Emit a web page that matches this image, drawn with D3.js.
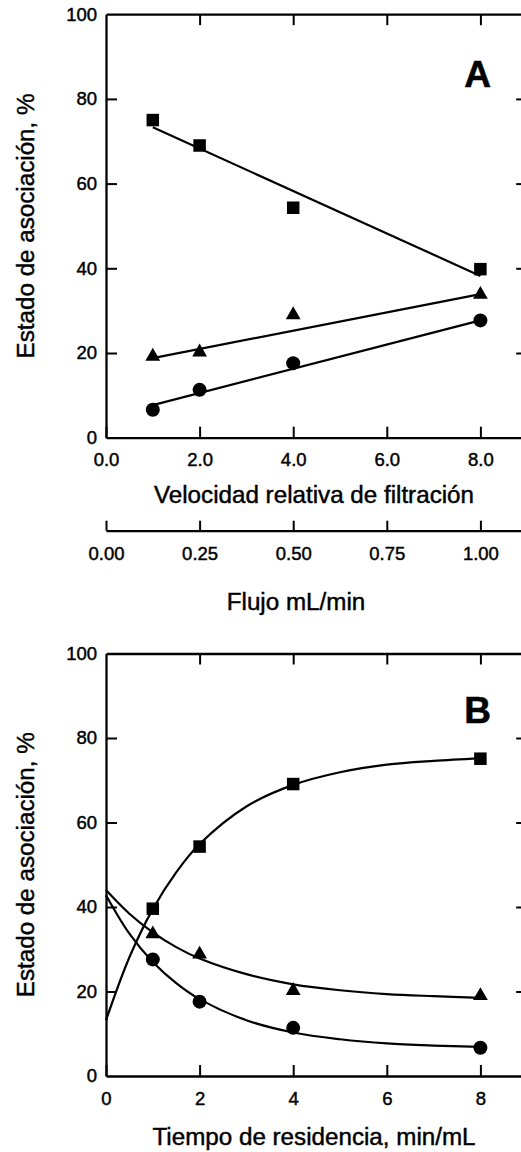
<!DOCTYPE html>
<html>
<head>
<meta charset="utf-8">
<script src="https://cdn.jsdelivr.net/npm/d3@7"></script>
<style>
  html, body { margin: 0; padding: 0; background: #fff; }
  svg { display: block; }
  text { font-family: "Liberation Sans", Arial, Helvetica, sans-serif; fill: #000; }
</style>
</head>
<body>
<svg id="chart" width="521" height="1152"></svg>
<script>
// ---------- Data ----------
// Panel A: x = velocidad relativa de filtración
const velocity = [1, 2, 4, 8];
const squaresA = [75.0, 69.0, 54.3, 39.8];
const trianglesA = [19.2, 20.2, 29.0, 33.8];
const circlesA = [6.6, 11.3, 17.6, 27.7];
// straight fit lines in panel A (end points)
const fitX_A = [1, 8];
const squaresFitA = [73.3, 38.2];
const trianglesFitA = [18.8, 33.9];
const circlesFitA = [7.7, 27.7];

// Panel B: x = tiempo de residencia
const residence = [1, 2, 4, 8];
const squaresB = [39.6, 54.3, 69.1, 75.1];
const trianglesB = [33.6, 28.8, 20.2, 19.0];
const circlesB = [27.6, 17.6, 11.4, 6.7];
// fitted curves in panel B
const curveX_B = [0, 0.5, 1, 1.5, 2, 3, 4, 5, 6, 7, 8];
const squaresCurveB = [13.2, 28.1, 39.5, 48.2, 54.9, 63.8, 68.9, 71.9, 73.7, 74.6, 75.2];
const trianglesCurveB = [44.0, 38.4, 34.0, 30.5, 27.8, 24.1, 21.7, 20.3, 19.4, 18.9, 18.5];
const circlesCurveB = [42.8, 33.7, 27.0, 22.0, 18.2, 13.2, 10.3, 8.7, 7.7, 7.2, 6.9];

// Tick values / labels
const xTicksA = [0, 2, 4, 6, 8];
const xTickLabelsA = ["0.0", "2.0", "4.0", "6.0", "8.0"];
const flowTicks = [0, 0.25, 0.5, 0.75, 1.0];
const flowTickLabels = ["0.00", "0.25", "0.50", "0.75", "1.00"];
const xTicksB = [0, 2, 4, 6, 8];
const xTickLabelsB = ["0", "2", "4", "6", "8"];
const yTicks = [0, 20, 40, 60, 80, 100];
const yTickLabels = ["0", "20", "40", "60", "80", "100"];

// ---------- Drawing ----------
const svg = d3.select("#chart");
const X0 = 106, X1 = 527.2;
const tickFont = 18.5, titleFont = 24.2;

function styleText(sel, size) {
  sel.attr("font-size", size)
    .attr("font-family", "Liberation Sans, Arial, sans-serif")
    .attr("fill", "#000").attr("stroke", "#000").attr("stroke-width", 0.45);
}

function panel(cfg) {
  const x = d3.scaleLinear().domain([0, 9]).range([X0, X1]);
  const y = d3.scaleLinear().domain([0, 100]).range([cfg.yBottom, cfg.yTop]);
  const g = svg.append("g");

  const styleAxis = sel => {
    sel.select(".domain").attr("stroke", "#000").attr("stroke-width", 2.3);
    sel.selectAll(".tick line").attr("stroke", "#000").attr("stroke-width", 2);
    sel.selectAll("text").call(styleText, tickFont);
  };

  // bottom axis
  g.append("g").attr("transform", `translate(0,${cfg.yBottom})`)
    .call(d3.axisBottom(x).tickValues(cfg.xTicks).tickFormat((d, i) => cfg.xLabels[i])
      .tickSizeInner(-11).tickSizeOuter(0).tickPadding(15.5))
    .call(styleAxis);
  // top axis
  g.append("g").attr("transform", `translate(0,${cfg.yTop})`)
    .call(d3.axisTop(x).tickValues(cfg.xTicks.filter(d => d > 0)).tickFormat("")
      .tickSizeInner(-11).tickSizeOuter(0))
    .call(styleAxis);
  // left axis
  g.append("g").attr("transform", `translate(${X0},0)`)
    .call(d3.axisLeft(y).tickValues(yTicks).tickFormat((d, i) => yTickLabels[i])
      .tickSizeInner(-11).tickSizeOuter(0).tickPadding(9))
    .call(styleAxis)
    .call(s => s.selectAll(".tick").filter(d => d === 0 || d === 100).select("line").remove());
  // right axis
  g.append("g").attr("transform", `translate(${X1},0)`)
    .call(d3.axisRight(y).tickValues(yTicks.filter(d => d > 0 && d < 100)).tickFormat("")
      .tickSizeInner(-11).tickSizeOuter(0))
    .call(styleAxis);

  // y title
  g.append("text")
    .attr("transform", `translate(34,${(cfg.yTop + cfg.yBottom) / 2}) rotate(-90)`)
    .attr("text-anchor", "middle")
    .text("Estado de asociación, %")
    .call(styleText, titleFont);

  // panel letter
  g.append("text").attr("x", 477.5).attr("y", cfg.letterY)
    .attr("text-anchor", "middle").attr("font-size", 37).attr("font-weight", "bold")
    .attr("stroke", "#000").attr("stroke-width", 0.6)
    .text(cfg.letter);

  // fit lines / curves
  const line = d3.line().x(d => x(d[0])).y(d => y(d[1])).curve(cfg.curve);
  cfg.fits.forEach(f => {
    g.append("path").datum(f.xs.map((v, i) => [v, f.ys[i]]))
      .attr("d", line).attr("fill", "none").attr("stroke", "#000").attr("stroke-width", 2.2);
  });

  // markers
  const sq = 12.5;
  g.selectAll(null).data(cfg.xs.map((v, i) => [v, cfg.squares[i]])).join("rect")
    .attr("x", d => x(d[0]) - sq / 2).attr("y", d => y(d[1]) - sq / 2)
    .attr("width", sq).attr("height", sq).attr("fill", "#000");
  g.selectAll(null).data(cfg.xs.map((v, i) => [v, cfg.circles[i]])).join("circle")
    .attr("cx", d => x(d[0])).attr("cy", d => y(d[1])).attr("r", 7).attr("fill", "#000");
  const tri = d3.symbol().type(d3.symbolTriangle).size(95);
  g.selectAll(null).data(cfg.xs.map((v, i) => [v, cfg.triangles[i]])).join("path")
    .attr("transform", d => `translate(${x(d[0])},${y(d[1])})`)
    .attr("d", tri).attr("fill", "#000");

  return { x, y, g };
}

// Panel A
const A = panel({
  yTop: 14.2, yBottom: 437.7, letter: "A", letterY: 86.7,
  xTicks: xTicksA, xLabels: xTickLabelsA,
  xs: velocity, squares: squaresA, triangles: trianglesA, circles: circlesA,
  curve: d3.curveLinear,
  fits: [
    { xs: fitX_A, ys: squaresFitA },
    { xs: fitX_A, ys: trianglesFitA },
    { xs: fitX_A, ys: circlesFitA }
  ]
});

svg.append("text").attr("x", 314).attr("y", 502.7).attr("text-anchor", "middle")
  .text("Velocidad relativa de filtración").call(styleText, titleFont);

// secondary axis: Flujo mL/min
const flow = d3.scaleLinear().domain([0, 9 / 8]).range([X0, X1]);
svg.append("g").attr("transform", "translate(0,530.7)")
  .call(d3.axisBottom(flow).tickValues(flowTicks).tickFormat((d, i) => flowTickLabels[i])
    .tickSizeInner(-10).tickSizeOuter(0).tickPadding(16))
  .call(sel => {
    sel.select(".domain").attr("stroke", "#000").attr("stroke-width", 2.3);
    sel.selectAll(".tick line").attr("stroke", "#000").attr("stroke-width", 2);
    sel.selectAll("text").call(styleText, tickFont);
  });
svg.append("text").attr("x", 296).attr("y", 610).attr("text-anchor", "middle")
  .text("Flujo mL/min").call(styleText, titleFont);

// Panel B
const B = panel({
  yTop: 653.5, yBottom: 1076, letter: "B", letterY: 723.3,
  xTicks: xTicksB, xLabels: xTickLabelsB,
  xs: residence, squares: squaresB, triangles: trianglesB, circles: circlesB,
  curve: d3.curveCatmullRom,
  fits: [
    { xs: curveX_B, ys: squaresCurveB },
    { xs: curveX_B, ys: trianglesCurveB },
    { xs: curveX_B, ys: circlesCurveB }
  ]
});

svg.append("text").attr("x", 314).attr("y", 1145).attr("text-anchor", "middle")
  .text("Tiempo de residencia, min/mL").call(styleText, titleFont);
</script>
</body>
</html>
